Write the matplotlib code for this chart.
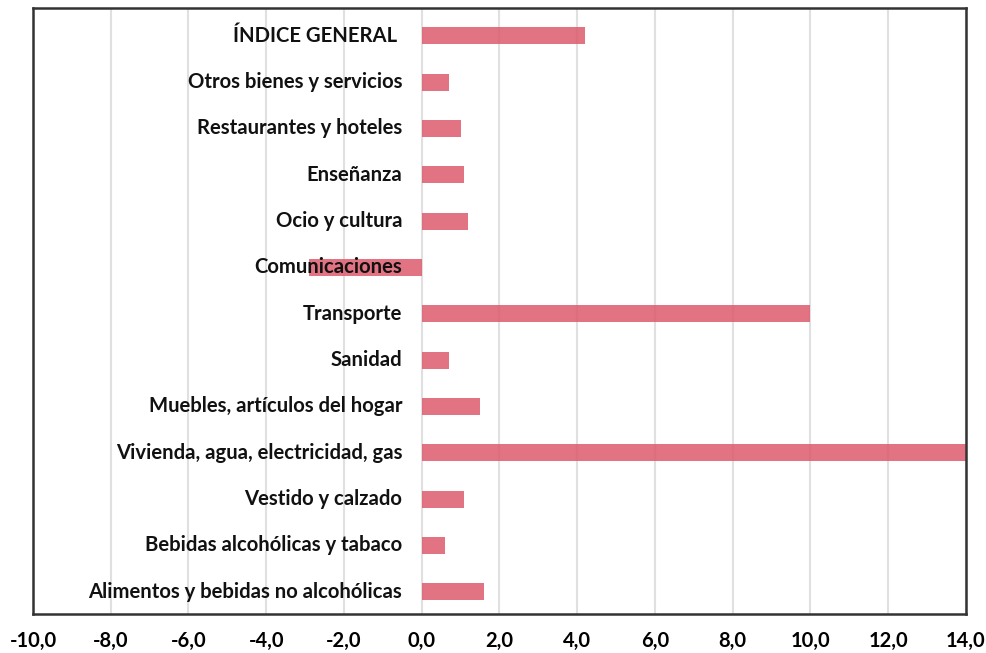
import numpy as np
import matplotlib
matplotlib.use("Agg")
import matplotlib.pyplot as plt
from matplotlib.ticker import FuncFormatter

# Categorías de abajo hacia arriba
categories = [
    "Alimentos y bebidas no alcohólicas",
    "Bebidas alcohólicas y tabaco",
    "Vestido y calzado",
    "Vivienda, agua, electricidad, gas",
    "Muebles, artículos del hogar",
    "Sanidad",
    "Transporte",
    "Comunicaciones",
    "Ocio y cultura",
    "Enseñanza",
    "Restaurantes y hoteles",
    "Otros bienes y servicios",
    "ÍNDICE GENERAL ",
]
values = [1.6, 0.6, 1.1, 15.0, 1.5, 0.7, 10.0, -2.9, 1.2, 1.1, 1.0, 0.7, 4.2]
xticks = np.arange(-10, 15, 2)

plt.rcParams['font.family'] = ['Lato', 'DejaVu Sans']

fig = plt.figure(figsize=(9.87, 6.53), dpi=100)
ax = fig.add_axes([0.0334, 0.0597, 0.9453, 0.928])

y = np.arange(len(categories))
ax.barh(y, values, height=0.37, color='#dc5a6c', alpha=0.85, zorder=2)

# Etiquetas dentro del área, a la izquierda del cero
for yi, name in zip(y, categories):
    ax.text(-0.5, yi, name, ha='right', va='center', fontsize=14.6,
            fontweight='bold', color='#111111', zorder=3)

ax.set_xlim(-10, 14)
ax.set_ylim(-0.48, 12.6)
ax.set_yticks([])
ax.set_xticks(xticks)
ax.xaxis.set_major_formatter(FuncFormatter(lambda v, p: f"{v:.1f}".replace('.', ',')))
ax.tick_params(axis='x', length=0, pad=12, labelsize=14.5)
for lbl in ax.get_xticklabels():
    lbl.set_fontweight('bold')
ax.grid(axis='x', color='#e0e0e0', linewidth=1.5, zorder=0)
ax.set_axisbelow(True)
for sp in ax.spines.values():
    sp.set_color('#333333')
    sp.set_linewidth(1.8)

fig.savefig("out.png", dpi=100)
